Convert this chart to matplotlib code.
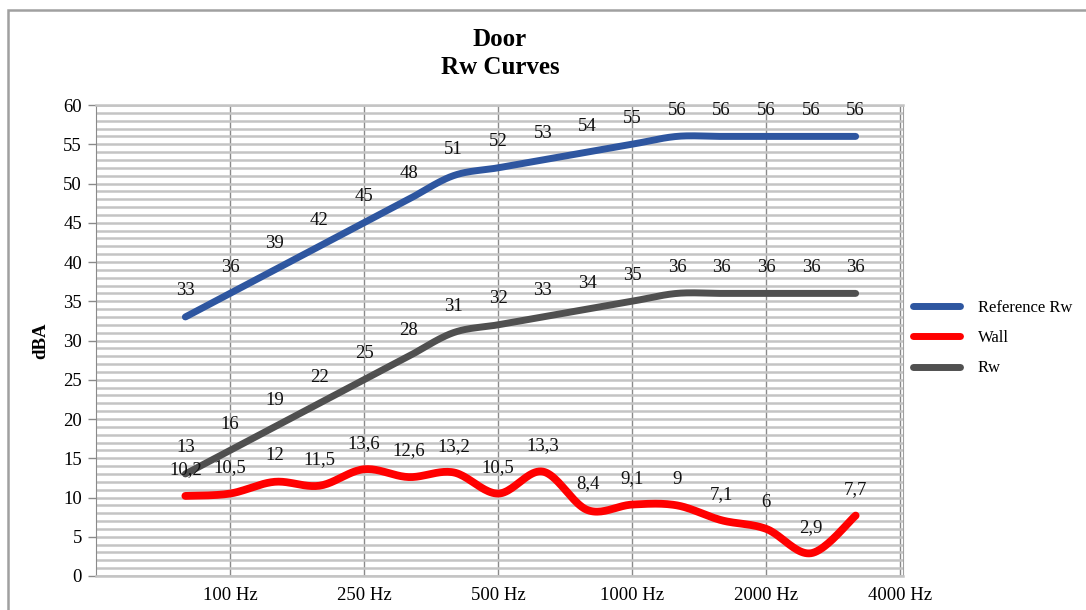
import numpy as np
import matplotlib
matplotlib.use("Agg")
import matplotlib.pyplot as plt
from matplotlib.lines import Line2D
from matplotlib.patches import Rectangle
from matplotlib.ticker import MultipleLocator

# ---------------- data ----------------
bands = ["100", "125", "160", "200", "250", "315", "400", "500",
         "630", "800", "1000", "1250", "1600", "2000", "2500", "3150"]
reference_rw = [33, 36, 39, 42, 45, 48, 51, 52, 53, 54, 55, 56, 56, 56, 56, 56]
wall = [10.2, 10.5, 12, 11.5, 13.6, 12.6, 13.2, 10.5, 13.3, 8.4, 9.1, 9, 7.1, 6, 2.9, 7.7]
rw = [13, 16, 19, 22, 25, 28, 31, 32, 33, 34, 35, 36, 36, 36, 36, 36]
tick_freqs = [125, 250, 500, 1000, 2000, 4000]
tick_labels = ["100 Hz", "250 Hz", "500 Hz", "1000 Hz", "2000 Hz", "4000 Hz"]
series_names = ["Reference Rw", "Wall", "Rw"]
title_lines = ["Door", "Rw Curves"]
y_label = "dBA"

# ---------------- style ----------------
W, H, DPI = 1086, 610, 100
SERIF = ["Liberation Serif", "DejaVu Serif"]
plt.rcParams["font.family"] = SERIF
colors = ["#2E56A0", "#FF0000", "#505050"]
FS = 13.5

fig = plt.figure(figsize=(W / DPI, H / DPI), dpi=DPI)
L, R, T, B = 96, 903, 105, 576
ax = fig.add_axes([L / W, 1 - B / H, (R - L) / W, (B - T) / H])

x = np.arange(len(bands))
# band index of tick frequencies (third-octave bands, 1000 Hz = index 10)
tick_pos = [10 + 3 * np.log2(f / 1000) for f in tick_freqs]
ax.set_xlim(-2, 16.06)
ax.set_ylim(0, 60)
sx = (R - L) / 18.06
sy = (B - T) / 60.0


def smooth(xs, ys, n=24):
    P = np.column_stack([np.asarray(xs, float) * sx, np.asarray(ys, float) * sy])
    pad = np.vstack([P[0], P, P[-1]])
    out = []
    t = np.linspace(0, 1, n)[:, None]
    for i in range(len(P) - 1):
        p0, p1, p2, p3 = pad[i], pad[i + 1], pad[i + 2], pad[i + 3]
        c1 = p1 + (p2 - p0) / 6
        c2 = p2 - (p3 - p1) / 6
        seg = (1 - t) ** 3 * p1 + 3 * (1 - t) ** 2 * t * c1 + 3 * (1 - t) * t ** 2 * c2 + t ** 3 * p2
        out.append(seg if i == 0 else seg[1:])
    S = np.vstack(out)
    return S[:, 0] / sx, S[:, 1] / sy


def fmt(v):
    s = f"{v:g}"
    return s.replace(".", ",")


for vals, col, name in zip([reference_rw, wall, rw], colors, series_names):
    xs, ys = smooth(x, vals)
    lw = 5.6 if col == "#FF0000" else 5.0
    ax.plot(xs, ys, color=col, lw=lw, solid_capstyle="round", zorder=3, label=name)
    for xi, v in zip(x, vals):
        ax.annotate(fmt(v), (xi, v), xytext=(0, 26), textcoords="offset pixels",
                    ha="center", va="center", fontsize=FS, color="#111111", zorder=5)

# grid
ax.yaxis.set_major_locator(MultipleLocator(5))
ax.yaxis.set_minor_locator(MultipleLocator(1))
ax.grid(axis="y", which="both", color="#c4c4c4", lw=1.8, zorder=0)
ax.set_xticks(tick_pos)
ax.set_xticklabels(tick_labels, fontsize=FS)
ax.grid(axis="x", which="major", color="#8a8a8a", lw=1.0, zorder=1)
ax.tick_params(axis="x", length=0, pad=8)
ax.tick_params(axis="y", which="major", length=6, color="#8a8a8a", width=1, labelsize=FS, pad=4)
ax.tick_params(axis="y", which="minor", length=0)
ax.set_axisbelow(True)
for side in ["top", "bottom"]:
    ax.spines[side].set_color("#c4c4c4")
    ax.spines[side].set_linewidth(1.8)
ax.spines["left"].set_color("#8a8a8a")
ax.spines["right"].set_color("#a0a0a0")

ax.set_ylabel(y_label, fontsize=FS, fontweight="bold", labelpad=10)

# title
fig.text(500 / W, 1 - 40 / H, title_lines[0], ha="center", va="center", fontsize=18, fontweight="bold")
fig.text(500 / W, 1 - 68 / H, title_lines[1], ha="center", va="center", fontsize=18, fontweight="bold")

# legend
handles = [Line2D([], [], color=c, lw=5.0, solid_capstyle="round") for c in colors]
fig.legend(handles, series_names, loc="upper left", bbox_to_anchor=(898 / W, 1 - 285 / H),
           frameon=False, fontsize=12, handlelength=2.8, handletextpad=1.1, labelspacing=0.85)

# chart border
fig.add_artist(Rectangle((8 / W, -0.05), 1.2, 1 - 10 / H + 0.05, transform=fig.transFigure,
                         fill=False, edgecolor="#a0a0a0", lw=1.8))

fig.savefig("out.png", dpi=DPI)
